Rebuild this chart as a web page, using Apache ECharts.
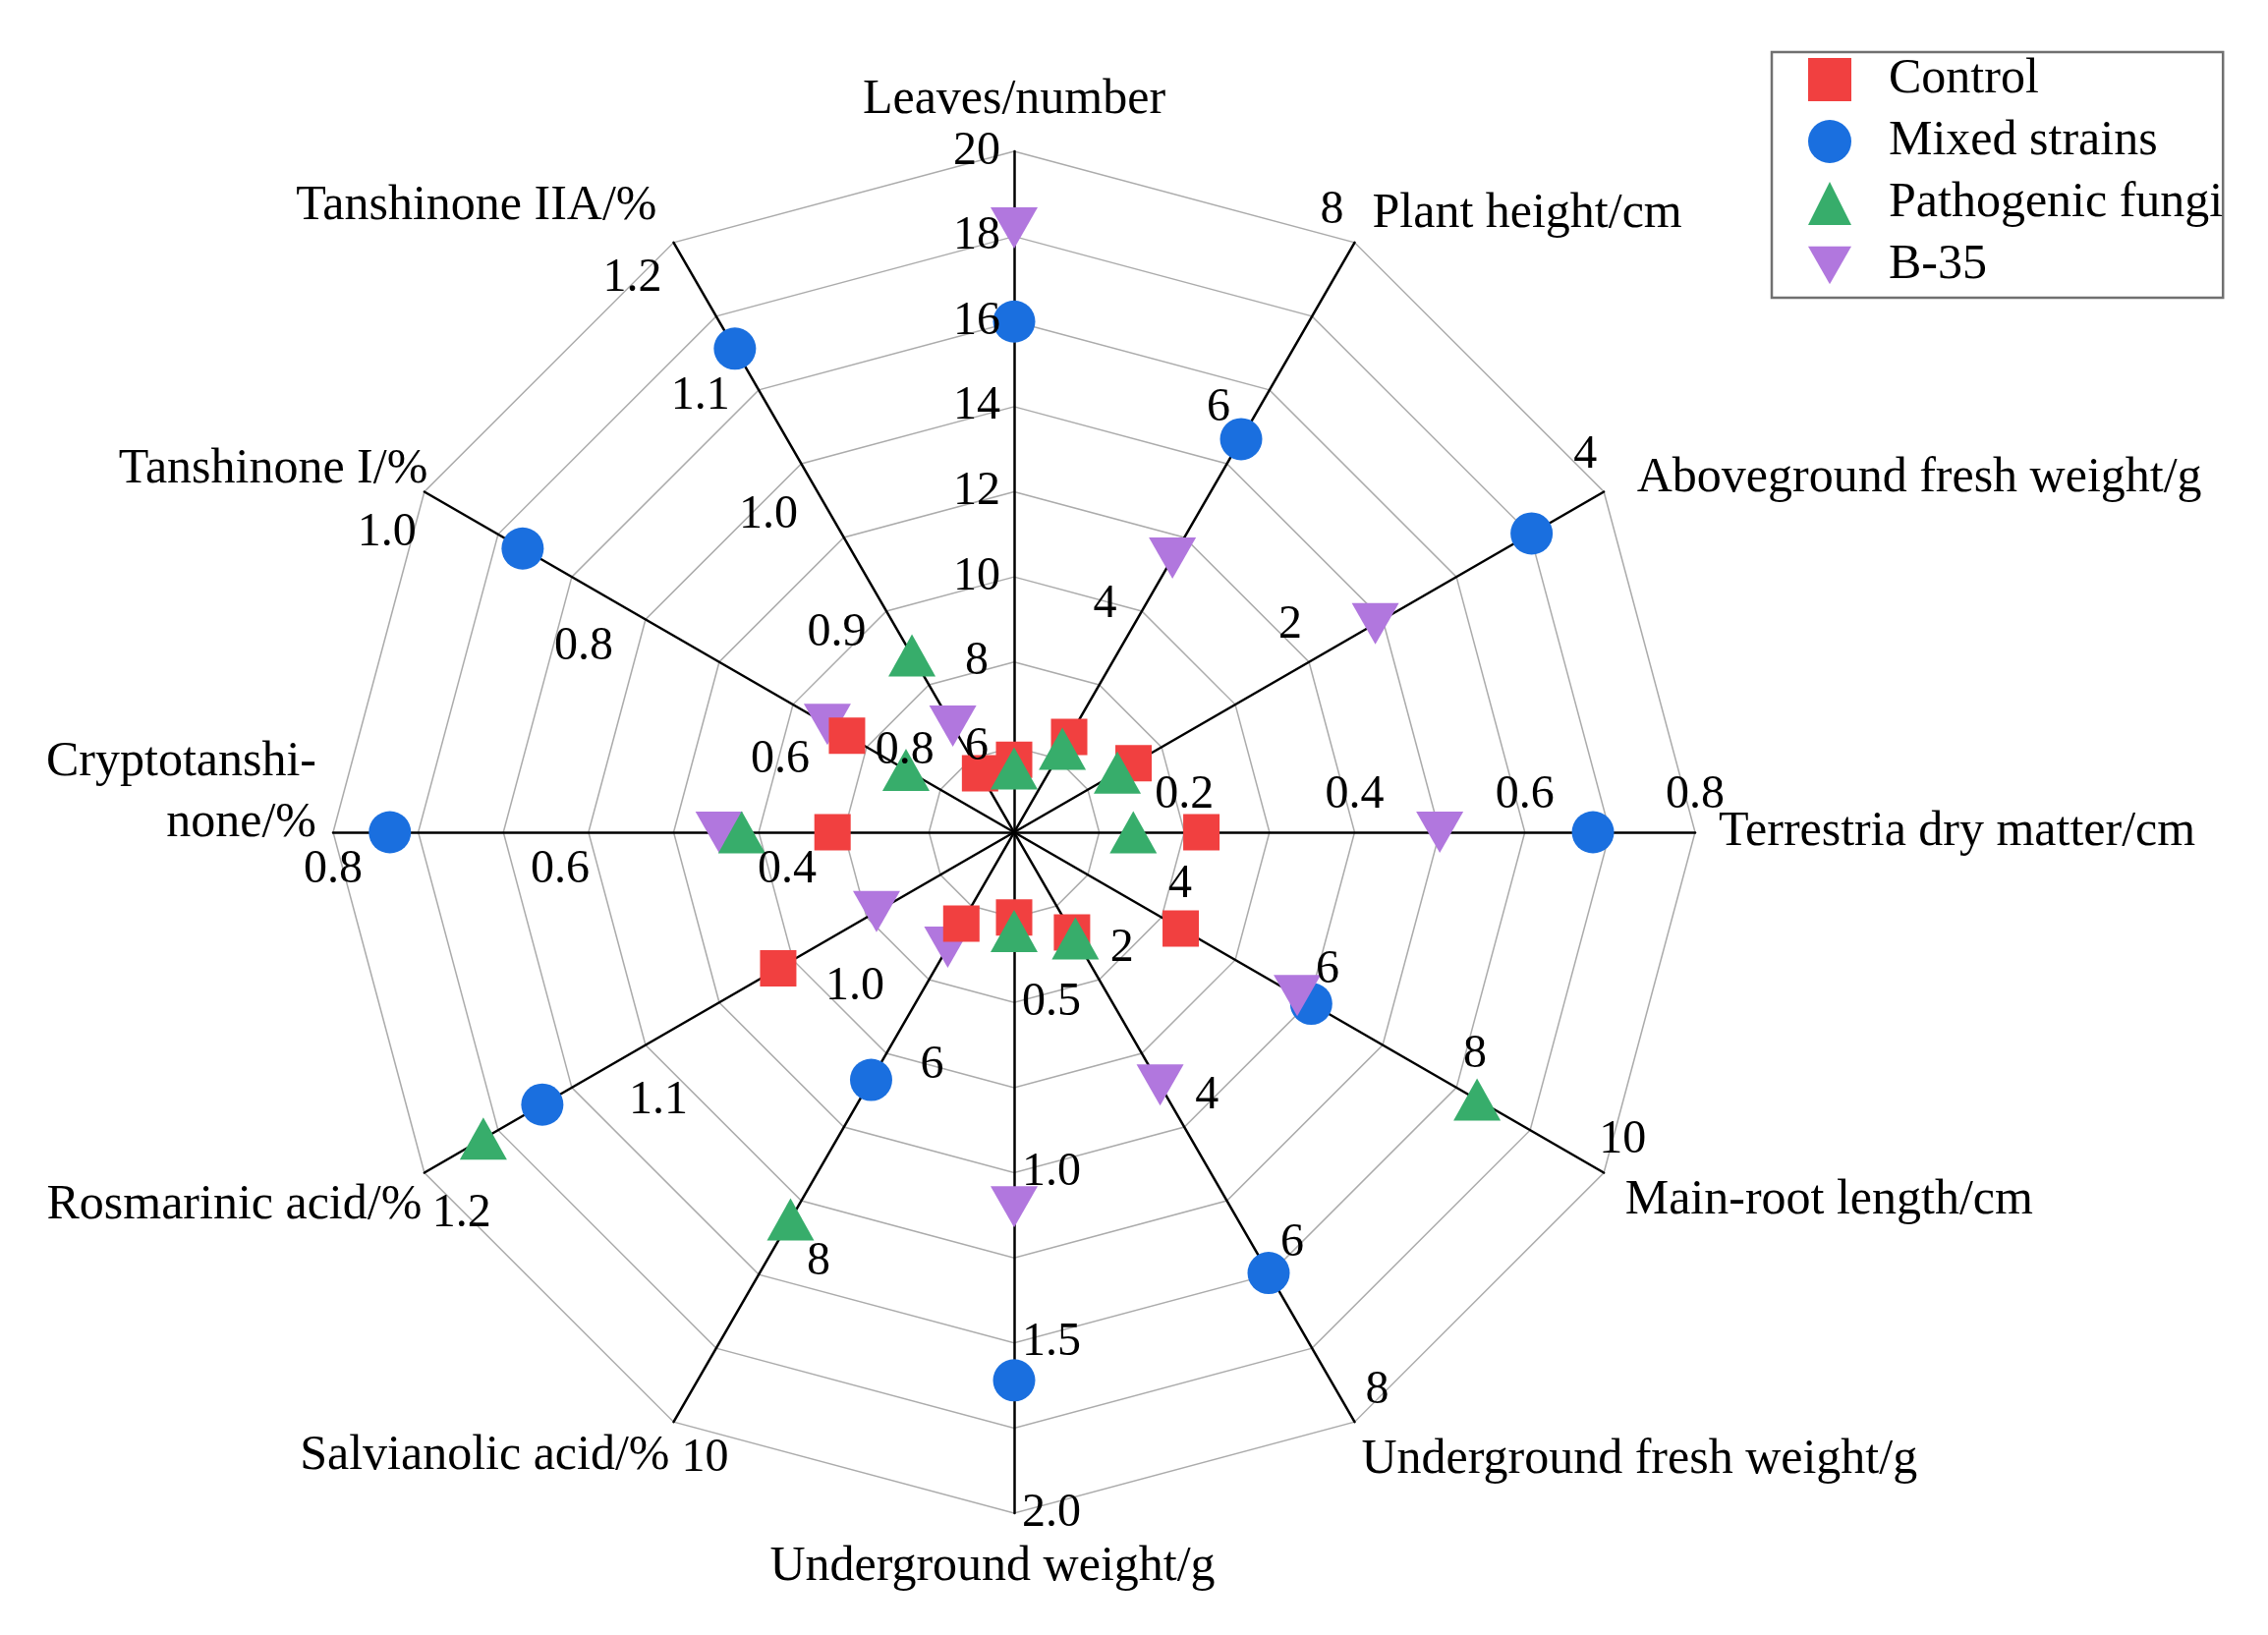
<!DOCTYPE html>
<html>
<head>
<meta charset="utf-8">
<script src="https://cdn.jsdelivr.net/npm/echarts@6/dist/echarts.min.js"></script>
<style>
html,body{margin:0;padding:0;background:#fff;}
#chart{width:2308px;height:1664px;}
</style>
</head>
<body>
<div id="chart"></div>
<script>
// Indicators in ECharts order (counter-clockwise from the top)
const axisNames = ['Leaves/number', 'Tanshinone IIA/%', 'Tanshinone I/%', 'Cryptotanshi-\nnone/%',
  'Rosmarinic acid/%', 'Salvianolic acid/%', 'Underground weight/g', 'Underground fresh weight/g',
  'Main-root length/cm', 'Terrestria dry matter/cm', 'Aboveground fresh weight/g', 'Plant height/cm'];
const axisMin = [4, 0.7, 0.4, 0.2, 0.9, 4, 0, 0, 2, 0, 0, 2];
const axisMax = [20, 1.2, 1.0, 0.8, 1.2, 10, 2.0, 8, 10, 0.8, 4, 8];
const axisDecimals = [0, 1, 1, 1, 1, 0, 1, 0, 0, 1, 0, 0];

// Tick labels per axis
const ticksLeaves = [6, 8, 10, 12, 14, 16, 18, 20];
const ticksTanIIA = [0.8, 0.9, 1.0, 1.1, 1.2];
const ticksTanI = [0.6, 0.8, 1.0];
const ticksCrypto = [0.4, 0.6, 0.8];
const ticksRosm = [1.0, 1.1, 1.2];
const ticksSalv = [6, 8, 10];
const ticksUgWeight = [0.5, 1.0, 1.5, 2.0];
const ticksUgFresh = [2, 4, 6, 8];
const ticksRoot = [4, 6, 8, 10];
const ticksDry = [0.2, 0.4, 0.6, 0.8];
const ticksAgFresh = [2, 4];
const ticksHeight = [4, 6, 8];
const axisTicks = [ticksLeaves, ticksTanIIA, ticksTanI, ticksCrypto, ticksRosm, ticksSalv,
  ticksUgWeight, ticksUgFresh, ticksRoot, ticksDry, ticksAgFresh, ticksHeight];

// Series values (same indicator order)
const seriesNames = ['Control', 'Mixed strains', 'Pathogenic fungi', 'B-35'];
const control    = [5.7, 0.75, 0.57, 0.36, 1.02, 4.93, 0.25, 1.36, 4.26, 0.22, 0.81, 2.97];
const mixed      = [16.0, 1.11, 0.90, 0.75, 1.14, 6.52, 1.61, 5.98, 6.03, 0.68, 3.51, 6.0];
const pathogenic = [5.5, 0.85, 0.51, 0.44, 1.17, 7.94, 0.29, 1.44, 8.28, 0.14, 0.70, 2.85];
const b35        = [18.2, 0.79, 0.59, 0.46, 0.97, 5.17, 1.10, 3.43, 5.84, 0.50, 2.45, 4.79];

// name label styling (layout only)
const nameAlign = ['center', 'right', 'right', 'right', 'right', 'right', 'center', 'left', 'left', 'left', 'left', 'left'];
const namePadding = [[0,0,50,0],[0,19,81,0],[0,0,50,0],[0,21,80,0],[70,6,0,0],[76,6,0,0],
  [55,44,0,0],[85,0,0,9],[61,0,0,25],[0,0,0,28],[0,0,32,37],[0,0,64,20]];
// tick label offsets from their tick point (layout only)
const tickOffset = [[-38,0],[-42,37],[-38,42],[0,38],[38,42],[32,37],
  [38,0],[23,-32],[19,-33],[0,-38],[-19,-37],[-23,-32]];

const FONT = '"Liberation Serif", "Times New Roman", serif';
const DOWN_TRI = 'path://M0,0 L48,0 L24,42 Z';

const chart = echarts.init(document.getElementById('chart'), null, {renderer: 'canvas'});

const indicator = axisNames.map((n, i) => ({name: n, min: axisMin[i], max: axisMax[i]}));

const rich = {};
axisNames.forEach((n, i) => {
  rich['n' + i] = {fontSize: 50, fontFamily: FONT, color: '#000', lineHeight: 62,
    align: nameAlign[i], padding: namePadding[i]};
});

// tick label series: one per axis
const tickSeries = axisTicks.map((ticks, k) => ({
  type: 'radar', silent: true, symbol: 'circle', symbolSize: 1,
  itemStyle: {color: 'rgba(0,0,0,0)'},
  lineStyle: {width: 0, opacity: 0},
  label: {
    show: true, position: 'inside', offset: tickOffset[k], color: '#000',
    fontSize: 48, fontFamily: FONT,
    formatter: p => (typeof p.value === 'number' && !isNaN(p.value)) ? p.value.toFixed(axisDecimals[k]) : ''
  },
  data: ticks.map(t => ({value: axisNames.map((_, j) => j === k ? t : '-')}))
}));

function dataSeries(name, values, symbol, size, color) {
  return {
    type: 'radar', name: name, symbol: symbol, symbolSize: size,
    itemStyle: {color: color, opacity: 1},
    lineStyle: {width: 0, opacity: 0},
    data: [{value: values, name: name}]
  };
}

const option = {
  backgroundColor: '#fff',
  animation: false,
  legend: {
    orient: 'vertical', left: 1803, top: 53,
    padding: [3, 0, 8, 37],
    itemWidth: 44, itemHeight: 44, itemGap: 13,
    borderColor: '#707070', borderWidth: 2.5,
    selectedMode: false,
    textStyle: {fontSize: 50, fontFamily: FONT, color: '#000', lineHeight: 50, padding: [0, 0, 0, 33]},
    data: [
      {name: 'Control', icon: 'rect'},
      {name: 'Mixed strains', icon: 'circle'},
      {name: 'Pathogenic fungi', icon: 'triangle'},
      {name: 'B-35', icon: DOWN_TRI}
    ]
  },
  radar: {
    center: [1032, 847], radius: 693, startAngle: 90, splitNumber: 8, shape: 'polygon',
    nameGap: -4,
    axisName: {
      color: '#000', fontSize: 50, fontFamily: FONT, lineHeight: 62,
      formatter: n => '{n' + axisNames.indexOf(n) + '|' + n + '}',
      rich: rich
    },
    axisLine: {show: true, lineStyle: {color: '#000', width: 2.5}},
    axisTick: {show: false},
    axisLabel: {show: false},
    splitLine: {show: true, lineStyle: {color: '#ababab', width: 1.5}},
    splitArea: {show: false},
    indicator: indicator
  },
  series: tickSeries.concat([
    dataSeries('Mixed strains', mixed, 'circle', 43, '#1A6FDF'),
    dataSeries('B-35', b35, DOWN_TRI, [48, 42], '#B177DE'),
    dataSeries('Control', control, 'rect', 37, '#F14040'),
    dataSeries('Pathogenic fungi', pathogenic, 'triangle', [48, 43], '#37AD6B')
  ])
};
chart.setOption(option);
</script>
</body>
</html>
